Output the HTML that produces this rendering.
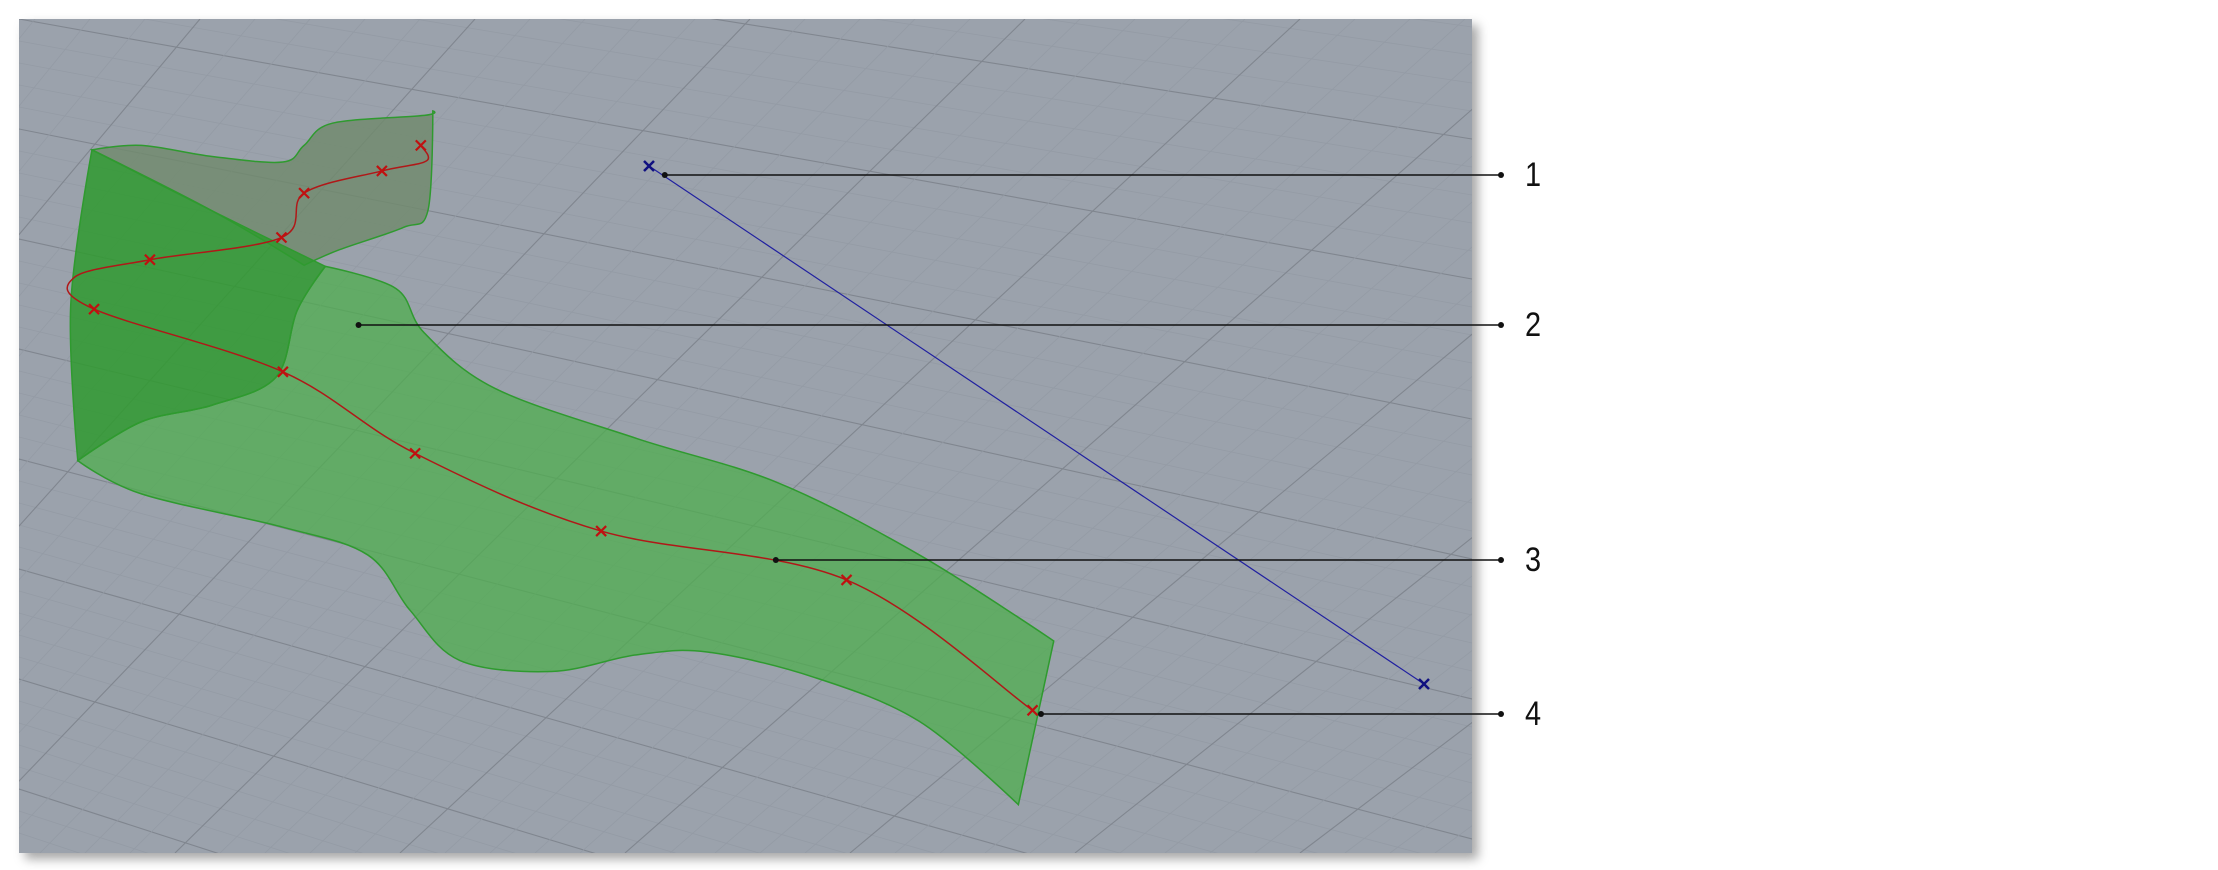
<!DOCTYPE html>
<html><head><meta charset="utf-8">
<style>
html,body{margin:0;padding:0;background:#fff;width:2218px;height:870px;overflow:hidden;}
body{position:relative;font-family:"Liberation Sans",sans-serif;}
#vp{position:absolute;left:19px;top:19px;width:1453px;height:834px;background:#9ba2ac;box-shadow:6px 6px 10px rgba(0,0,0,0.35);}
.lbl{position:absolute;font-size:34px;color:#111;line-height:1;transform:scaleX(0.85);transform-origin:left top;}
svg{display:block;}
</style></head>
<body>
<div id="vp"></div>
<svg id="s" width="2218" height="870" style="position:absolute;left:0;top:0">
<defs><clipPath id="c"><rect x="19" y="19" width="1453" height="834"/></clipPath></defs>
<g id="grid" clip-path="url(#c)"></g>
<g id="surf"></g>
<g id="crv"></g>
<g id="ann"></g>
</svg>
<div class="lbl" style="left:1525px;top:158px">1</div>
<div class="lbl" style="left:1525px;top:308px">2</div>
<div class="lbl" style="left:1525px;top:543px">3</div>
<div class="lbl" style="left:1525px;top:697px">4</div>
<script>
const NS="http://www.w3.org/2000/svg";
const backPoly=[[130,270,1],[200,262],[300,282],[400,292],[430,262],[470,222],[600,208],[612,200,1],[605,380],[570,410],[480,450],[430,478,1],[300,380]];
const curtainPoly=[[130,270,1],[300,380],[460,480,1],[420,560],[390,680],[300,730],[200,760],[110,830,1],[100,550]];
const ribbonPoly=[[460,480,1],[560,520],[600,600],[700,700],[900,790],[1100,870],[1300,1000],[1490,1155,1],[1440,1450,1],[1300,1300],[1150,1220],[1000,1175],[900,1180],[780,1210],[650,1190],[580,1100],[520,1000],[400,950],[200,890],[110,830,1],[200,760],[300,730],[390,680],[420,560]];
const curvePts=[[595,262],[603,290],[540,308],[430,348],[398,428],[212,468],[105,500],[133,557],[400,670],[587,817],[850,957],[1197,1045],[1460,1280]];
const markerIdx=[0,2,3,4,5,7,8,9,10,11,12];
const leaders=[[940,316,175],[507,585,325],[1097,1010,560],[1472,1287,714]];
function X(x){return x/1.414;} function Y(y){return y/1.802;}
function mk(tag,at,parent){const e=document.createElementNS(NS,tag);for(const k in at)e.setAttribute(k,at[k]);parent.appendChild(e);return e;}
function spline(pts,closed,t){const P=pts.map(p=>[X(p[0]),Y(p[1]),p[2]]);const n=P.length;
 const get=i=>closed?P[(i+n)%n]:P[Math.max(0,Math.min(n-1,i))];
 let d='M'+P[0][0]+' '+P[0][1];const m=closed?n:n-1;
 for(let i=0;i<m;i++){const p0=get(i-1),p1=get(i),p2=get(i+1),p3=get(i+2);
  const t1=p1[2]?0:t, t2=p2[2]?0:t;
  const c1=[p1[0]+(p2[0]-p0[0])*t1/3,p1[1]+(p2[1]-p0[1])*t1/3],c2=[p2[0]-(p3[0]-p1[0])*t2/3,p2[1]-(p3[1]-p1[1])*t2/3];
  d+=` C${c1[0]} ${c1[1]} ${c2[0]} ${c2[1]} ${p2[0]} ${p2[1]}`;}
 return d+(closed?'Z':'');}
const g=document.getElementById('grid');
for(let i=-10;i<60;i++){const y0=19+i*22, y1=y0+i*6+260;
 const l=mk('line',{x1:19,y1:y0,x2:1472,y2:y1,stroke:i%5==0?'#80868f':'#949ba5','stroke-width':i%5==0?1.1:0.8},g);
 }
for(let i=-40;i<50;i++){const x0=200+i*55;
 const l=mk('line',{x1:x0,y1:19,x2:x0-700-i*10,y2:853,stroke:i%5==0?'#80868f':'#949ba5','stroke-width':i%5==0?1.1:0.8},g);
 }
const sf=document.getElementById('surf');
function poly(p,fill,op,name){const e=mk('path',{d:spline(p,true,0.5),fill:fill,'fill-opacity':op,stroke:'#2f9a2f','stroke-width':1.5},sf);
 }
poly(backPoly,'#6f8a6c',0.8,'back-surface');
poly(ribbonPoly,'#4fae4f',0.75,'ribbon-surface');
poly(curtainPoly,'#2f9a2f',0.85,'front-curtain');
const cg=document.getElementById('crv');
const cp=mk('path',{d:spline(curvePts,false,0.5),fill:'none',stroke:'#b01818','stroke-width':1.5},cg);

markerIdx.forEach(i=>{const x=X(curvePts[i][0]),y=Y(curvePts[i][1]);
 const m=mk('path',{d:`M${x-5} ${y-5}L${x+5} ${y+5}M${x+5} ${y-5}L${x-5} ${y+5}`,stroke:'#c01010','stroke-width':2.2},cg);
 });
const an=document.getElementById('ann');
const bl=mk('line',{x1:649,y1:166,x2:1424,y2:684,stroke:'#2020a0','stroke-width':1.2},an);

[[649,166],[1424,684]].forEach(p=>{const m=mk('path',{d:`M${p[0]-5} ${p[1]-5}L${p[0]+5} ${p[1]+5}M${p[0]+5} ${p[1]-5}L${p[0]-5} ${p[1]+5}`,stroke:'#101080','stroke-width':2.5},an);
 });
leaders.forEach(l=>{const x=X(l[0]),y=l[2];
 const ln=mk('line',{x1:x,y1:y,x2:1501,y2:y,stroke:'#111','stroke-width':1.6},an);
 
 [x,1501].forEach(cx=>{const c=mk('circle',{cx:cx,cy:y,r:3,fill:'#111'},an);
 });});
</script>
</body></html>
